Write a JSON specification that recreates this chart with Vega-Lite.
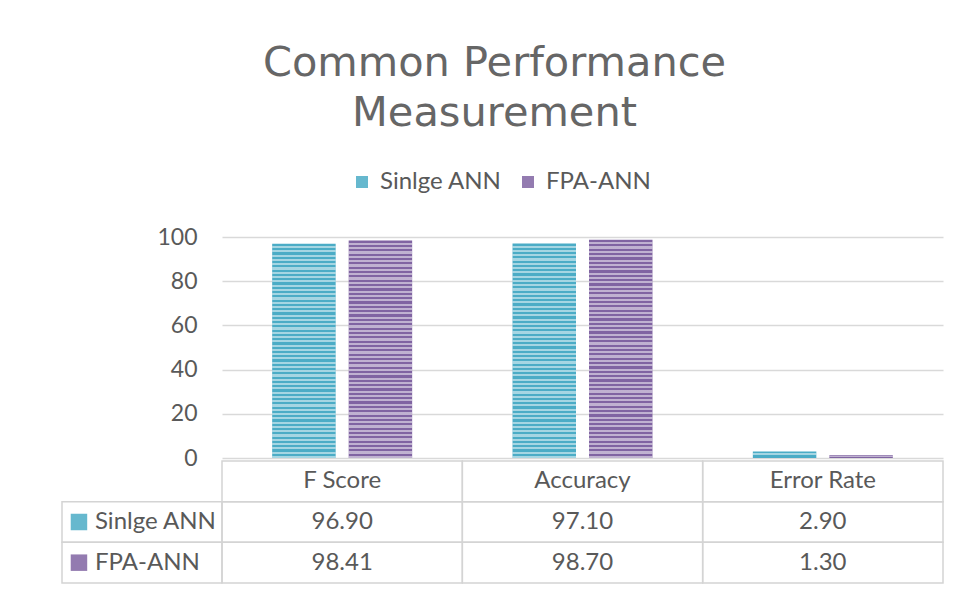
{
  "$schema": "https://vega.github.io/schema/vega-lite/v6.json",
  "autosize": {"type": "none"},
  "width": 721,
  "height": 346,
  "padding": {"left": 222, "top": 237, "right": 20, "bottom": 6},
  "background": "white",
  "config": {
    "view": {"stroke": null},
    "font": "Lato"
  },
  "title": {
    "text": ["Common Performance", "Measurement"],
    "font": "DejaVu Sans",
    "fontSize": 41.5,
    "fontWeight": "normal",
    "color": "#666666",
    "lineHeight": 50,
    "anchor": "middle",
    "frame": "group",
    "dx": -88,
    "offset": 36
  },
  "data": {
    "values": [
      {"measure": "F Score", "series": "Sinlge ANN", "value": 96.90},
      {"measure": "F Score", "series": "FPA-ANN", "value": 98.41},
      {"measure": "Accuracy", "series": "Sinlge ANN", "value": 97.10},
      {"measure": "Accuracy", "series": "FPA-ANN", "value": 98.70},
      {"measure": "Error Rate", "series": "Sinlge ANN", "value": 2.90},
      {"measure": "Error Rate", "series": "FPA-ANN", "value": 1.30}
    ]
  },
  "layer": [
    {
      "layer": [
        {
          "mark": {"type": "bar"},
          "encoding": {
            "color": {"field": "series", "type": "nominal", "sort": ["Sinlge ANN", "FPA-ANN"],
                      "scale": {"domain": ["Sinlge ANN", "FPA-ANN"], "range": ["#4bacc6", "#8064a2"]},
                      "legend": {"orient": "none", "legendX": 128, "legendY": -67, "direction": "horizontal",
                                 "title": null, "symbolType": "square", "symbolSize": 144, "padding": 0,
                                 "labelFont": "Lato", "labelFontSize": 24, "labelColor": "#595959",
                                 "columnPadding": 14, "labelOffset": 6}}
          }
        },
        {
          "mark": {"type": "bar", "fill": {"gradient": "linear", "x1": 0, "y1": 0, "x2": 0, "y2": 1, "stops": [
            {"offset": 0, "color": "rgba(255,255,255,0)"}, {"offset": 0.01, "color": "rgba(255,255,255,0)"}, {"offset": 0.01, "color": "rgba(255,255,255,0.5)"}, {"offset": 0.02, "color": "rgba(255,255,255,0.5)"},
            {"offset": 0.02, "color": "rgba(255,255,255,0)"}, {"offset": 0.03, "color": "rgba(255,255,255,0)"}, {"offset": 0.03, "color": "rgba(255,255,255,0.5)"}, {"offset": 0.04, "color": "rgba(255,255,255,0.5)"},
            {"offset": 0.04, "color": "rgba(255,255,255,0)"}, {"offset": 0.05, "color": "rgba(255,255,255,0)"}, {"offset": 0.05, "color": "rgba(255,255,255,0.5)"}, {"offset": 0.06, "color": "rgba(255,255,255,0.5)"},
            {"offset": 0.06, "color": "rgba(255,255,255,0)"}, {"offset": 0.07, "color": "rgba(255,255,255,0)"}, {"offset": 0.07, "color": "rgba(255,255,255,0.5)"}, {"offset": 0.08, "color": "rgba(255,255,255,0.5)"},
            {"offset": 0.08, "color": "rgba(255,255,255,0)"}, {"offset": 0.09, "color": "rgba(255,255,255,0)"}, {"offset": 0.09, "color": "rgba(255,255,255,0.5)"}, {"offset": 0.10, "color": "rgba(255,255,255,0.5)"},
            {"offset": 0.10, "color": "rgba(255,255,255,0)"}, {"offset": 0.11, "color": "rgba(255,255,255,0)"}, {"offset": 0.11, "color": "rgba(255,255,255,0.5)"}, {"offset": 0.12, "color": "rgba(255,255,255,0.5)"},
            {"offset": 0.12, "color": "rgba(255,255,255,0)"}, {"offset": 0.13, "color": "rgba(255,255,255,0)"}, {"offset": 0.13, "color": "rgba(255,255,255,0.5)"}, {"offset": 0.14, "color": "rgba(255,255,255,0.5)"},
            {"offset": 0.14, "color": "rgba(255,255,255,0)"}, {"offset": 0.15, "color": "rgba(255,255,255,0)"}, {"offset": 0.15, "color": "rgba(255,255,255,0.5)"}, {"offset": 0.16, "color": "rgba(255,255,255,0.5)"},
            {"offset": 0.16, "color": "rgba(255,255,255,0)"}, {"offset": 0.17, "color": "rgba(255,255,255,0)"}, {"offset": 0.17, "color": "rgba(255,255,255,0.5)"}, {"offset": 0.18, "color": "rgba(255,255,255,0.5)"},
            {"offset": 0.18, "color": "rgba(255,255,255,0)"}, {"offset": 0.19, "color": "rgba(255,255,255,0)"}, {"offset": 0.19, "color": "rgba(255,255,255,0.5)"}, {"offset": 0.20, "color": "rgba(255,255,255,0.5)"},
            {"offset": 0.20, "color": "rgba(255,255,255,0)"}, {"offset": 0.21, "color": "rgba(255,255,255,0)"}, {"offset": 0.21, "color": "rgba(255,255,255,0.5)"}, {"offset": 0.22, "color": "rgba(255,255,255,0.5)"},
            {"offset": 0.22, "color": "rgba(255,255,255,0)"}, {"offset": 0.23, "color": "rgba(255,255,255,0)"}, {"offset": 0.23, "color": "rgba(255,255,255,0.5)"}, {"offset": 0.24, "color": "rgba(255,255,255,0.5)"},
            {"offset": 0.24, "color": "rgba(255,255,255,0)"}, {"offset": 0.25, "color": "rgba(255,255,255,0)"}, {"offset": 0.25, "color": "rgba(255,255,255,0.5)"}, {"offset": 0.26, "color": "rgba(255,255,255,0.5)"},
            {"offset": 0.26, "color": "rgba(255,255,255,0)"}, {"offset": 0.27, "color": "rgba(255,255,255,0)"}, {"offset": 0.27, "color": "rgba(255,255,255,0.5)"}, {"offset": 0.28, "color": "rgba(255,255,255,0.5)"},
            {"offset": 0.28, "color": "rgba(255,255,255,0)"}, {"offset": 0.29, "color": "rgba(255,255,255,0)"}, {"offset": 0.29, "color": "rgba(255,255,255,0.5)"}, {"offset": 0.30, "color": "rgba(255,255,255,0.5)"},
            {"offset": 0.30, "color": "rgba(255,255,255,0)"}, {"offset": 0.31, "color": "rgba(255,255,255,0)"}, {"offset": 0.31, "color": "rgba(255,255,255,0.5)"}, {"offset": 0.32, "color": "rgba(255,255,255,0.5)"},
            {"offset": 0.32, "color": "rgba(255,255,255,0)"}, {"offset": 0.33, "color": "rgba(255,255,255,0)"}, {"offset": 0.33, "color": "rgba(255,255,255,0.5)"}, {"offset": 0.34, "color": "rgba(255,255,255,0.5)"},
            {"offset": 0.34, "color": "rgba(255,255,255,0)"}, {"offset": 0.35, "color": "rgba(255,255,255,0)"}, {"offset": 0.35, "color": "rgba(255,255,255,0.5)"}, {"offset": 0.36, "color": "rgba(255,255,255,0.5)"},
            {"offset": 0.36, "color": "rgba(255,255,255,0)"}, {"offset": 0.37, "color": "rgba(255,255,255,0)"}, {"offset": 0.37, "color": "rgba(255,255,255,0.5)"}, {"offset": 0.38, "color": "rgba(255,255,255,0.5)"},
            {"offset": 0.38, "color": "rgba(255,255,255,0)"}, {"offset": 0.39, "color": "rgba(255,255,255,0)"}, {"offset": 0.39, "color": "rgba(255,255,255,0.5)"}, {"offset": 0.40, "color": "rgba(255,255,255,0.5)"},
            {"offset": 0.40, "color": "rgba(255,255,255,0)"}, {"offset": 0.41, "color": "rgba(255,255,255,0)"}, {"offset": 0.41, "color": "rgba(255,255,255,0.5)"}, {"offset": 0.42, "color": "rgba(255,255,255,0.5)"},
            {"offset": 0.42, "color": "rgba(255,255,255,0)"}, {"offset": 0.43, "color": "rgba(255,255,255,0)"}, {"offset": 0.43, "color": "rgba(255,255,255,0.5)"}, {"offset": 0.44, "color": "rgba(255,255,255,0.5)"},
            {"offset": 0.44, "color": "rgba(255,255,255,0)"}, {"offset": 0.45, "color": "rgba(255,255,255,0)"}, {"offset": 0.45, "color": "rgba(255,255,255,0.5)"}, {"offset": 0.46, "color": "rgba(255,255,255,0.5)"},
            {"offset": 0.46, "color": "rgba(255,255,255,0)"}, {"offset": 0.47, "color": "rgba(255,255,255,0)"}, {"offset": 0.47, "color": "rgba(255,255,255,0.5)"}, {"offset": 0.48, "color": "rgba(255,255,255,0.5)"},
            {"offset": 0.48, "color": "rgba(255,255,255,0)"}, {"offset": 0.49, "color": "rgba(255,255,255,0)"}, {"offset": 0.49, "color": "rgba(255,255,255,0.5)"}, {"offset": 0.50, "color": "rgba(255,255,255,0.5)"},
            {"offset": 0.50, "color": "rgba(255,255,255,0)"}, {"offset": 0.51, "color": "rgba(255,255,255,0)"}, {"offset": 0.51, "color": "rgba(255,255,255,0.5)"}, {"offset": 0.52, "color": "rgba(255,255,255,0.5)"},
            {"offset": 0.52, "color": "rgba(255,255,255,0)"}, {"offset": 0.53, "color": "rgba(255,255,255,0)"}, {"offset": 0.53, "color": "rgba(255,255,255,0.5)"}, {"offset": 0.54, "color": "rgba(255,255,255,0.5)"},
            {"offset": 0.54, "color": "rgba(255,255,255,0)"}, {"offset": 0.55, "color": "rgba(255,255,255,0)"}, {"offset": 0.55, "color": "rgba(255,255,255,0.5)"}, {"offset": 0.56, "color": "rgba(255,255,255,0.5)"},
            {"offset": 0.56, "color": "rgba(255,255,255,0)"}, {"offset": 0.57, "color": "rgba(255,255,255,0)"}, {"offset": 0.57, "color": "rgba(255,255,255,0.5)"}, {"offset": 0.58, "color": "rgba(255,255,255,0.5)"},
            {"offset": 0.58, "color": "rgba(255,255,255,0)"}, {"offset": 0.59, "color": "rgba(255,255,255,0)"}, {"offset": 0.59, "color": "rgba(255,255,255,0.5)"}, {"offset": 0.60, "color": "rgba(255,255,255,0.5)"},
            {"offset": 0.60, "color": "rgba(255,255,255,0)"}, {"offset": 0.61, "color": "rgba(255,255,255,0)"}, {"offset": 0.61, "color": "rgba(255,255,255,0.5)"}, {"offset": 0.62, "color": "rgba(255,255,255,0.5)"},
            {"offset": 0.62, "color": "rgba(255,255,255,0)"}, {"offset": 0.63, "color": "rgba(255,255,255,0)"}, {"offset": 0.63, "color": "rgba(255,255,255,0.5)"}, {"offset": 0.64, "color": "rgba(255,255,255,0.5)"},
            {"offset": 0.64, "color": "rgba(255,255,255,0)"}, {"offset": 0.65, "color": "rgba(255,255,255,0)"}, {"offset": 0.65, "color": "rgba(255,255,255,0.5)"}, {"offset": 0.66, "color": "rgba(255,255,255,0.5)"},
            {"offset": 0.66, "color": "rgba(255,255,255,0)"}, {"offset": 0.67, "color": "rgba(255,255,255,0)"}, {"offset": 0.67, "color": "rgba(255,255,255,0.5)"}, {"offset": 0.68, "color": "rgba(255,255,255,0.5)"},
            {"offset": 0.68, "color": "rgba(255,255,255,0)"}, {"offset": 0.69, "color": "rgba(255,255,255,0)"}, {"offset": 0.69, "color": "rgba(255,255,255,0.5)"}, {"offset": 0.70, "color": "rgba(255,255,255,0.5)"},
            {"offset": 0.70, "color": "rgba(255,255,255,0)"}, {"offset": 0.71, "color": "rgba(255,255,255,0)"}, {"offset": 0.71, "color": "rgba(255,255,255,0.5)"}, {"offset": 0.72, "color": "rgba(255,255,255,0.5)"},
            {"offset": 0.72, "color": "rgba(255,255,255,0)"}, {"offset": 0.73, "color": "rgba(255,255,255,0)"}, {"offset": 0.73, "color": "rgba(255,255,255,0.5)"}, {"offset": 0.74, "color": "rgba(255,255,255,0.5)"},
            {"offset": 0.74, "color": "rgba(255,255,255,0)"}, {"offset": 0.75, "color": "rgba(255,255,255,0)"}, {"offset": 0.75, "color": "rgba(255,255,255,0.5)"}, {"offset": 0.76, "color": "rgba(255,255,255,0.5)"},
            {"offset": 0.76, "color": "rgba(255,255,255,0)"}, {"offset": 0.77, "color": "rgba(255,255,255,0)"}, {"offset": 0.77, "color": "rgba(255,255,255,0.5)"}, {"offset": 0.78, "color": "rgba(255,255,255,0.5)"},
            {"offset": 0.78, "color": "rgba(255,255,255,0)"}, {"offset": 0.79, "color": "rgba(255,255,255,0)"}, {"offset": 0.79, "color": "rgba(255,255,255,0.5)"}, {"offset": 0.80, "color": "rgba(255,255,255,0.5)"},
            {"offset": 0.80, "color": "rgba(255,255,255,0)"}, {"offset": 0.81, "color": "rgba(255,255,255,0)"}, {"offset": 0.81, "color": "rgba(255,255,255,0.5)"}, {"offset": 0.82, "color": "rgba(255,255,255,0.5)"},
            {"offset": 0.82, "color": "rgba(255,255,255,0)"}, {"offset": 0.83, "color": "rgba(255,255,255,0)"}, {"offset": 0.83, "color": "rgba(255,255,255,0.5)"}, {"offset": 0.84, "color": "rgba(255,255,255,0.5)"},
            {"offset": 0.84, "color": "rgba(255,255,255,0)"}, {"offset": 0.85, "color": "rgba(255,255,255,0)"}, {"offset": 0.85, "color": "rgba(255,255,255,0.5)"}, {"offset": 0.86, "color": "rgba(255,255,255,0.5)"},
            {"offset": 0.86, "color": "rgba(255,255,255,0)"}, {"offset": 0.87, "color": "rgba(255,255,255,0)"}, {"offset": 0.87, "color": "rgba(255,255,255,0.5)"}, {"offset": 0.88, "color": "rgba(255,255,255,0.5)"},
            {"offset": 0.88, "color": "rgba(255,255,255,0)"}, {"offset": 0.89, "color": "rgba(255,255,255,0)"}, {"offset": 0.89, "color": "rgba(255,255,255,0.5)"}, {"offset": 0.90, "color": "rgba(255,255,255,0.5)"},
            {"offset": 0.90, "color": "rgba(255,255,255,0)"}, {"offset": 0.91, "color": "rgba(255,255,255,0)"}, {"offset": 0.91, "color": "rgba(255,255,255,0.5)"}, {"offset": 0.92, "color": "rgba(255,255,255,0.5)"},
            {"offset": 0.92, "color": "rgba(255,255,255,0)"}, {"offset": 0.93, "color": "rgba(255,255,255,0)"}, {"offset": 0.93, "color": "rgba(255,255,255,0.5)"}, {"offset": 0.94, "color": "rgba(255,255,255,0.5)"},
            {"offset": 0.94, "color": "rgba(255,255,255,0)"}, {"offset": 0.95, "color": "rgba(255,255,255,0)"}, {"offset": 0.95, "color": "rgba(255,255,255,0.5)"}, {"offset": 0.96, "color": "rgba(255,255,255,0.5)"},
            {"offset": 0.96, "color": "rgba(255,255,255,0)"}, {"offset": 0.97, "color": "rgba(255,255,255,0)"}, {"offset": 0.97, "color": "rgba(255,255,255,0.5)"}, {"offset": 0.98, "color": "rgba(255,255,255,0.5)"},
            {"offset": 0.98, "color": "rgba(255,255,255,0)"}, {"offset": 0.99, "color": "rgba(255,255,255,0)"}, {"offset": 0.99, "color": "rgba(255,255,255,0.5)"}, {"offset": 1, "color": "rgba(255,255,255,0.5)"}
          ]}}
        }
      ],
      "encoding": {
        "x": {"field": "measure", "type": "nominal", "sort": ["F Score", "Accuracy", "Error Rate"],
              "scale": {"paddingInner": 0, "paddingOuter": 0}, "axis": null},
        "xOffset": {"field": "series", "type": "nominal", "sort": ["Sinlge ANN", "FPA-ANN"],
                    "scale": {"paddingInner": 0.17, "paddingOuter": 0.656}},
        "y": {"field": "value", "type": "quantitative",
              "scale": {"domain": [0, 100], "range": [221, 0], "nice": false, "zero": true},
              "axis": {"title": null, "values": [0, 20, 40, 60, 80, 100], "ticks": false, "domain": false,
                       "labelFont": "Lato", "labelFontSize": 23, "labelColor": "#595959", "labelPadding": 25,
                       "grid": true, "gridColor": "#d9d9d9", "gridWidth": 1.5}}
      }
    },
    {
      "layer": [
        {
          "layer": [
            {
              "mark": {"type": "rect", "filled": false, "color": "#d4d4d4", "strokeWidth": 1.5},
              "encoding": {
                "x": {"field": "measure", "type": "nominal"},
                "y": {"field": "series", "type": "nominal"}
              }
            },
            {
              "mark": {"type": "text", "font": "Lato", "fontSize": 24, "color": "#595959", "align": "center", "baseline": "middle"},
              "encoding": {
                "x": {"field": "measure", "type": "nominal"},
                "y": {"field": "series", "type": "nominal"},
                "text": {"field": "value", "type": "quantitative", "format": ".2f"}
              }
            },
            {
              "transform": [{"filter": "datum.series === 'Sinlge ANN'"}],
              "mark": {"type": "rect", "filled": false, "color": "#d4d4d4", "strokeWidth": 1.5},
              "encoding": {
                "x": {"field": "measure", "type": "nominal"},
                "y": {"datum": "header", "type": "nominal"}
              }
            },
            {
              "transform": [{"filter": "datum.series === 'Sinlge ANN'"}],
              "mark": {"type": "text", "font": "Lato", "fontSize": 24, "color": "#595959", "align": "center", "baseline": "middle"},
              "encoding": {
                "x": {"field": "measure", "type": "nominal"},
                "y": {"datum": "header", "type": "nominal"},
                "text": {"field": "measure", "type": "nominal"}
              }
            }
          ],
          "encoding": {
            "x": {"field": "measure", "type": "nominal", "sort": ["F Score", "Accuracy", "Error Rate"],
                  "scale": {"domain": ["F Score", "Accuracy", "Error Rate"], "paddingInner": 0, "paddingOuter": 0}, "axis": null},
            "y": {"field": "series", "type": "nominal",
                  "scale": {"domain": ["header", "Sinlge ANN", "FPA-ANN"], "range": [224, 346], "paddingInner": 0, "paddingOuter": 0}, "axis": null}
          }
        },
        {
          "transform": [{"filter": "datum.measure === 'F Score'"}],
          "layer": [
            {
              "mark": {"type": "rect", "filled": false, "color": "#d4d4d4", "strokeWidth": 1.5},
              "encoding": {
                "x": {"datum": "lbl", "type": "nominal"}
              }
            },
            {
              "mark": {"type": "point", "shape": "square", "filled": true, "size": 272, "opacity": 0.85},
              "encoding": {
                "x": {"datum": "lbl", "type": "nominal", "bandPosition": 0.106},
                "color": {"field": "series", "type": "nominal", "sort": ["Sinlge ANN", "FPA-ANN"]}
              }
            },
            {
              "mark": {"type": "text", "font": "Lato", "fontSize": 24, "color": "#595959", "align": "left", "baseline": "middle"},
              "encoding": {
                "x": {"datum": "lbl", "type": "nominal", "bandPosition": 0.206},
                "text": {"field": "series", "type": "nominal"}
              }
            }
          ],
          "encoding": {
            "x": {"datum": "lbl", "type": "nominal",
                  "scale": {"domain": ["lbl"], "range": [-160, 0], "paddingInner": 0, "paddingOuter": 0}, "axis": null},
            "y": {"field": "series", "type": "nominal", "axis": null}
          }
        }
      ],
      "resolve": {"scale": {"x": "independent"}}
    }
  ],
  "resolve": {"scale": {"x": "independent", "y": "independent"}}
}
